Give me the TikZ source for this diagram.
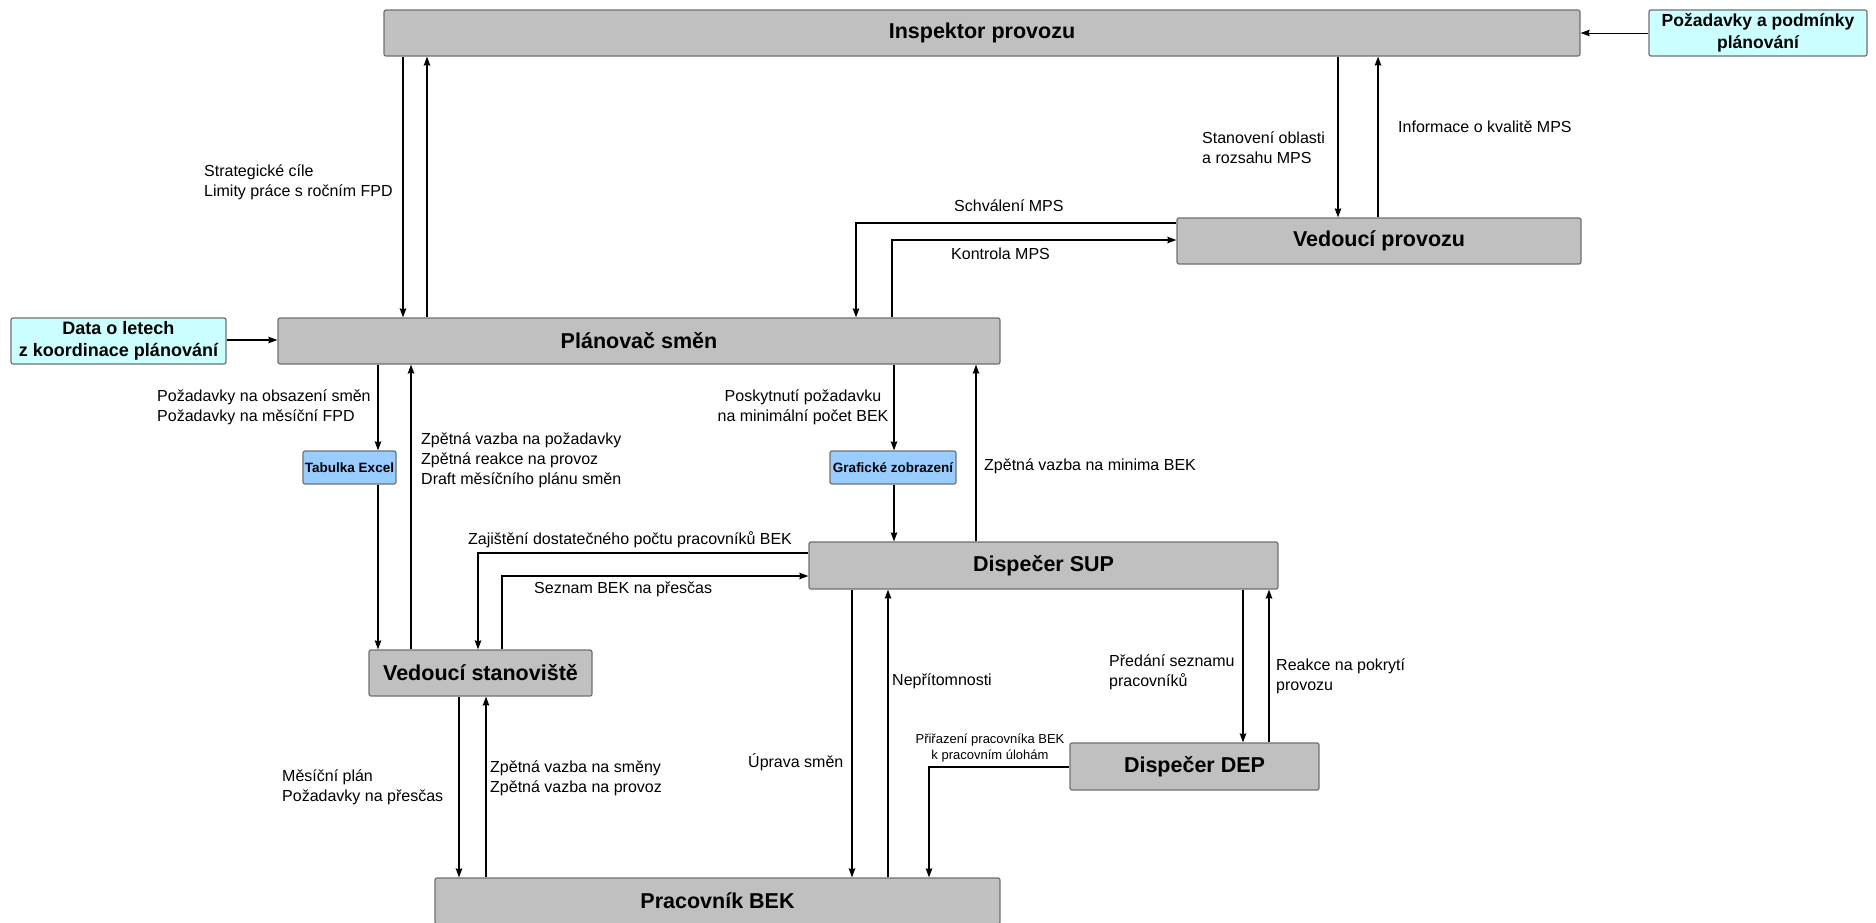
\documentclass[tikz,border=0pt]{standalone}
\usepackage{fontspec}
\setmainfont{Liberation Sans}
\usetikzlibrary{arrows.meta}

\definecolor{boxgray}{HTML}{C0C0C0}
\definecolor{boxedge}{HTML}{707070}
\definecolor{inputcyan}{HTML}{CCFFFF}
\definecolor{toolblue}{HTML}{99CCFF}

\begin{document}
\begin{tikzpicture}[x=1pt,y=-1pt,
  actor/.style={draw=boxedge, fill=boxgray, line width=1.2pt, rounded corners=2pt,
    inner sep=0pt, font=\fontsize{21.5}{24}\selectfont\bfseries},
  source/.style={draw=boxedge, fill=inputcyan, line width=1.2pt, rounded corners=2pt,
    inner sep=0pt, align=center, font=\fontsize{18}{22.5}\selectfont\bfseries},
  tool/.style={draw=boxedge, fill=toolblue, line width=1.2pt, rounded corners=2pt,
    inner sep=0pt, font=\fontsize{13.5}{15}\selectfont\bfseries},
  flow/.style={draw=black, line width=1.4pt, -{Stealth[length=9pt,width=6.5pt,inset=1pt]}},
  lbl/.style={inner sep=0pt, anchor=west, align=left, font=\fontsize{16}{20}\selectfont},
  smalllbl/.style={inner sep=0pt, align=center, font=\fontsize{13}{16}\selectfont},
]
\useasboundingbox (0,0) rectangle (1876,922);
\clip (0,0) rectangle (1876,922);

% ---------- participants ----------
\node[actor, minimum width=1196pt, minimum height=46pt] (insp)  at (982,33)     {Inspektor provozu};
\node[source, minimum width=218pt, minimum height=46pt, font=\fontsize{17.5}{22.5}\selectfont\bfseries] (pozad) at (1758,33) {Požadavky a podmínky\\plánování};
\node[source, minimum width=215pt, minimum height=46pt] (data)  at (118.5,341)  {Data o letech\\z koordinace plánování};
\node[actor, minimum width=722pt, minimum height=46pt]  (plan)  at (639,341)    {Plánovač směn};
\node[actor, minimum width=404pt, minimum height=46pt]  (vprov) at (1379,241)   {Vedoucí provozu};
\node[tool, minimum width=93pt, minimum height=33pt]    (excel) at (349.5,467.5){Tabulka Excel};
\node[tool, minimum width=126pt, minimum height=33pt]   (graf)  at (893,467.5)  {Grafické zobrazení};
\node[actor, minimum width=223pt, minimum height=46pt]  (vstan) at (480.5,673)  {Vedoucí stanoviště};
\node[actor, minimum width=469pt, minimum height=47pt]  (sup)   at (1043.5,565.5){Dispečer SUP};
\node[actor, minimum width=249pt, minimum height=47pt]  (dep)   at (1194.5,766.5){Dispečer DEP};
\node[actor, minimum width=565pt, minimum height=46pt]  (prac)  at (717.5,901)  {Pracovník BEK};

% ---------- connector columns and rows ----------
\coordinate (xa) at (403,0);   \coordinate (xb) at (427,0);
\coordinate (xc) at (1338,0);  \coordinate (xd) at (1378,0);
\coordinate (xe) at (856,0);   \coordinate (xf) at (892,0);
\coordinate (xg) at (378,0);   \coordinate (xh) at (411,0);
\coordinate (xi) at (894,0);   \coordinate (xj) at (976,0);
\coordinate (xk) at (478,0);   \coordinate (xl) at (502,0);
\coordinate (xm) at (459,0);   \coordinate (xn) at (486,0);
\coordinate (xo) at (852,0);   \coordinate (xp) at (888,0);
\coordinate (xq) at (1243,0);  \coordinate (xr) at (1269,0);
\coordinate (xs) at (929,0);
\coordinate (ya) at (0,33);    \coordinate (yb) at (0,223);
\coordinate (yc) at (0,240);   \coordinate (yd) at (0,340);
\coordinate (ye) at (0,553);   \coordinate (yf) at (0,576);
\coordinate (yg) at (0,767);

% ---------- flows ----------
\draw[flow, line width=1pt] (pozad.west |- ya) -- (insp.east |- ya);
\draw[flow] (insp.south -| xa) -- (plan.north -| xa);
\draw[flow] (plan.north -| xb) -- (insp.south -| xb);
\draw[flow] (insp.south -| xc) -- (vprov.north -| xc);
\draw[flow] (vprov.north -| xd) -- (insp.south -| xd);
\draw[flow] (vprov.west |- yb) -| (plan.north -| xe);
\draw[flow] (plan.north -| xf) |- (vprov.west |- yc);
\draw[flow] (data.east |- yd) -- (plan.west |- yd);
\draw[flow] (plan.south -| xg) -- (excel.north -| xg);
\draw[flow] (excel.south -| xg) -- (vstan.north -| xg);
\draw[flow] (vstan.north -| xh) -- (plan.south -| xh);
\draw[flow] (plan.south -| xi) -- (graf.north -| xi);
\draw[flow] (graf.south -| xi) -- (sup.north -| xi);
\draw[flow] (sup.north -| xj) -- (plan.south -| xj);
\draw[flow] (sup.west |- ye) -| (vstan.north -| xk);
\draw[flow] (vstan.north -| xl) |- (sup.west |- yf);
\draw[flow] (vstan.south -| xm) -- (prac.north -| xm);
\draw[flow] (prac.north -| xn) -- (vstan.south -| xn);
\draw[flow] (sup.south -| xo) -- (prac.north -| xo);
\draw[flow] (prac.north -| xp) -- (sup.south -| xp);
\draw[flow] (sup.south -| xq) -- (dep.north -| xq);
\draw[flow] (dep.north -| xr) -- (sup.south -| xr);
\draw[flow] (dep.west |- yg) -| (prac.north -| xs);

% ---------- flow labels ----------
\node[lbl] (l1)  at (204,182.5)  {Strategické cíle\\Limity práce s ročním FPD};
\node[lbl] (l2)  at (1202,147.5) {Stanovení oblasti\\a rozsahu MPS};
\node[lbl] (l3)  at (1398,127)   {Informace o kvalitě MPS};
\node[lbl] (l4)  at (954,206)    {Schválení MPS};
\node[lbl] (l5)  at (951,254)    {Kontrola MPS};
\node[lbl] (l6)  at (157,407.5)  {Požadavky na obsazení směn\\Požadavky na měsíční FPD};
\node[lbl] (l7)  at (421,460)    {Zpětná vazba na požadavky\\Zpětná reakce na provoz\\Draft měsíčního plánu směn};
\node[lbl, anchor=center, align=center] (l8) at (803,407.5) {Poskytnutí požadavku\\na minimální počet BEK};
\node[lbl] (l9)  at (984,466)    {Zpětná vazba na minima BEK};
\node[lbl] (l10) at (468,540)    {Zajištění dostatečného počtu pracovníků BEK};
\node[lbl] (l11) at (534,589)    {Seznam BEK na přesčas};
\node[lbl] (l12) at (282,787.5)  {Měsíční plán\\Požadavky na přesčas};
\node[lbl] (l13) at (490,778)    {Zpětná vazba na směny\\Zpětná vazba na provoz};
\node[lbl] (l14) at (748,762)    {Úprava směn};
\node[lbl] (l15) at (892,681)    {Nepřítomnosti};
\node[lbl] (l16) at (1109,672.5) {Předání seznamu\\pracovníků};
\node[lbl] (l17) at (1276,676.5) {Reakce na pokrytí\\provozu};
\node[smalllbl] (l18) at (990,748) {Přiřazení pracovníka BEK\\k pracovním úlohám};
\end{tikzpicture}
\end{document}
